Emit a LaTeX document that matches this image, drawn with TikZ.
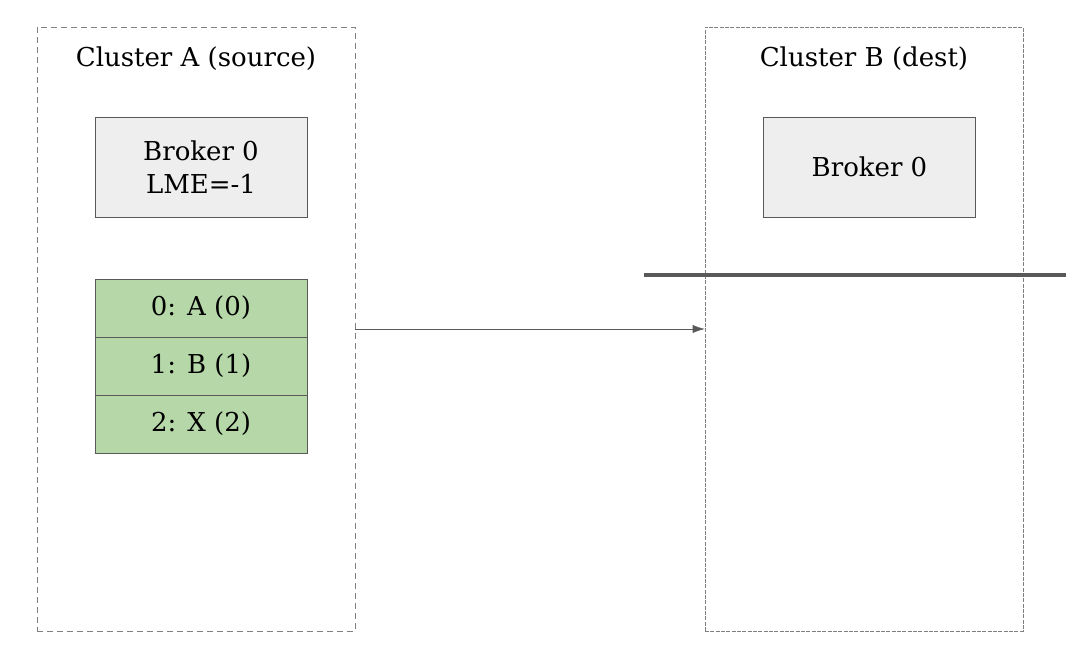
\documentclass[tikz,border=0pt]{standalone}
\usepackage{fontspec}
\setmainfont{DejaVu Serif}
\usetikzlibrary{arrows.meta}
\definecolor{boxgray}{HTML}{EEEEEE}
\definecolor{rowgreen}{HTML}{B6D7A8}
\definecolor{edgegray}{HTML}{595959}

\begin{document}
\begin{tikzpicture}[x=0.75pt, y=-0.75pt,
	cluster/.style={draw=gray, dash pattern=on 4.5pt off 3pt, minimum width=238.5pt, minimum height=453pt, inner sep=0pt},
	broker/.style={draw=edgegray, fill=boxgray, minimum width=159pt, minimum height=75pt, align=center, font=\fontsize{19.5}{25}\selectfont},
	row/.style={draw=edgegray, fill=rowgreen, minimum width=159pt, minimum height=43.5pt, font=\fontsize{19.5}{25}\selectfont},
	title/.style={font=\fontsize{19.5}{25}\selectfont}]
	\useasboundingbox (0,0) rectangle (1083,655);
	% Clusters
	\node[cluster] (clA) at (196,329) {};
	\node[cluster, dash pattern=on 3pt off 1pt] (clB) at (864,329) {};
	\node[title] (tA) at (196,59) {Cluster A (source)};
	\node[title] (tB) at (864,59) {Cluster B (dest)};
	% Brokers
	\node[broker] (bA) at (201,167) {Broker 0\\LME=-1};
	\node[broker] (bB) at (869.5,167) {Broker 0};
	% Log entries
	\foreach \y/\lbl [count=\i from 0] in {308/{0: A (0)}, 366/{1: B (1)}, 424/{2: X (2)}}{
		\node[row] (r\i) at (201,\y) {\lbl};
	}
	% Replication
	\draw[-{Latex[length=9pt, width=6pt]}, edgegray] (clA.east) -- (clB.west);
	% Cut line
	\coordinate (cutL) at (644,275);
	\coordinate (cutR) at (1066,275);
	\draw[edgegray, line width=3pt] (cutL) -- (cutR);
\end{tikzpicture}
\end{document}
